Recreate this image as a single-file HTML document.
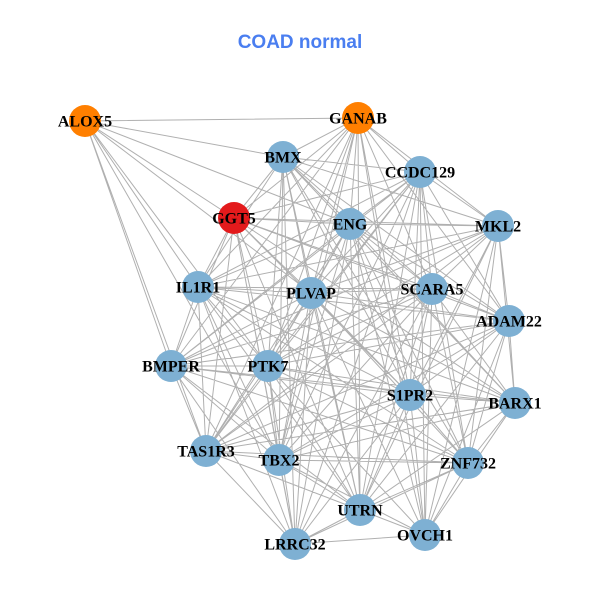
<!DOCTYPE html>
<html><head><meta charset="utf-8"><style>
html,body{margin:0;padding:0;background:#fff;width:600px;height:600px;overflow:hidden}
svg text.l{font-family:"Liberation Serif",serif;font-weight:bold;font-size:16px;fill:#000;text-anchor:middle;dominant-baseline:central}
</style></head><body>
<svg id="s" width="600" height="600" xmlns="http://www.w3.org/2000/svg">
<text x="300" y="48" text-anchor="middle" style="font-family:'Liberation Sans',sans-serif;font-weight:bold;font-size:19px;fill:#4a7ef0">COAD normal</text>
<g id="e" stroke="#b0b0b0" stroke-width="1" fill="none"></g>
<g id="n"></g>
</svg>
<script>
var N={A:[85,121,'ALOX5','#ff7f00'],G:[358,118,'GANAB','#ff7f00'],B:[283,157,'BMX'],C:[420,172,'CCDC129'],T:[234,218,'GGT5','#e31a1c'],E:[350,224,'ENG'],M:[498,226,'MKL2'],I:[198,287,'IL1R1'],P:[311,293,'PLVAP'],S:[432,289,'SCARA5'],D:[509,321,'ADAM22'],R:[171,366,'BMPER'],K:[268,366,'PTK7'],Q:[410,395,'S1PR2'],X:[515,403,'BARX1'],3:[206,451,'TAS1R3'],2:[279,460,'TBX2'],Z:[468,463,'ZNF732'],U:[360,510,'UTRN'],O:[425,535,'OVCH1'],L:[295,544,'LRRC32']};
var E={A:'GBTEIPRK32',G:'BCTEMIPSDKQ32UOR',B:'CTEMIPSDKQX2ZUL',C:'TEMIPSDRKQ23ZUOL',T:'EMIPSDRKQ32ULX',E:'MIPSDRKQX32ZUOL',M:'IPSDRKQX3ZUO',I:'PSDRKQX32ZUL',P:'SDRKQX32ZUOL',S:'DRKQX32ZUOL',D:'RKQX32ZUO',R:'KQX32ULZ',K:'QX32ZUOL',Q:'X32ZUOL',X:'32ZUO',3:'2ZULO',2:'ZUOL',Z:'UOL',U:'OL',O:'L'};
var d='';for(var a in E){for(var i=0;i<E[a].length;i++){var p=N[a],q=N[E[a][i]];d+='M'+p[0]+' '+p[1]+'L'+q[0]+' '+q[1];}}
var ns='http://www.w3.org/2000/svg';
var pa=document.createElementNS(ns,'path');pa.setAttribute('d',d);document.getElementById('e').appendChild(pa);
var g=document.getElementById('n');
for(var k in N){var v=N[k];var c=document.createElementNS(ns,'circle');c.setAttribute('cx',v[0]);c.setAttribute('cy',v[1]);c.setAttribute('r',16);c.setAttribute('fill',v[3]||'#7eb0d3');g.appendChild(c);}
for(var k in N){var v=N[k];var t=document.createElementNS(ns,'text');t.setAttribute('class','l');t.setAttribute('x',v[0]);t.setAttribute('y',v[1]+1);t.textContent=v[2];g.appendChild(t);}
</script>
</body></html>
